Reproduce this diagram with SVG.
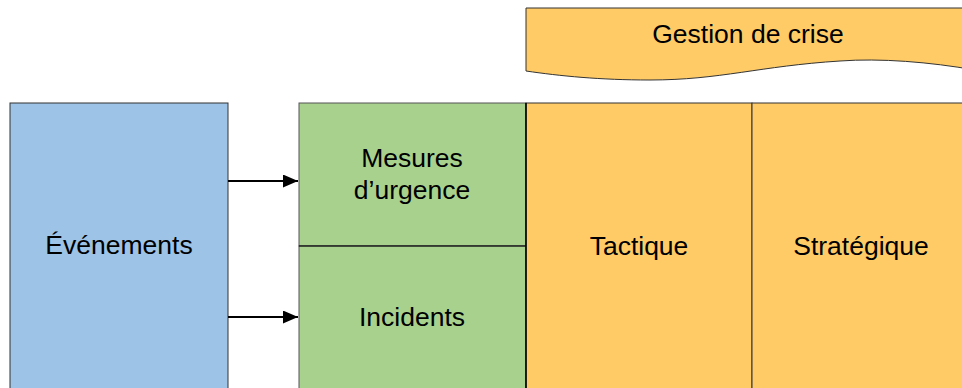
<svg xmlns="http://www.w3.org/2000/svg" width="962" height="388" viewBox="0 0 962 388">
<defs>
<style>
text{font-family:"Liberation Sans",Arial,sans-serif;font-size:26.5px;fill:#000;text-anchor:middle}
.conn{stroke:#000;stroke-width:2;fill:none}
</style>
<marker id="ah" viewBox="0 0 10 10" refX="10" refY="5" markerWidth="7.5" markerHeight="6.5" markerUnits="strokeWidth" orient="auto" preserveAspectRatio="none"><path d="M0,0L10,5L0,10z" fill="#000"/></marker>
</defs>
<g id="banner">
<path d="M526,8H975V70C930,62 880,58 840,61C760,66 720,80 650,80C600,80 560,76 526,71Z" fill="#FFCB66" stroke="#333" stroke-width="1"/>
<text x="748" y="43">Gestion de crise</text>
</g>
<g id="evenements">
<rect x="10" y="103" width="218" height="300" fill="#9DC3E6" stroke="#333" stroke-width="1"/>
<text x="119" y="254">Événements</text>
</g>
<g id="mesures">
<rect x="299" y="103" width="227" height="143" fill="#A9D18E" stroke="#555" stroke-width="1"/>
<text x="412" y="167">Mesures</text>
<text x="412" y="199">d’urgence</text>
</g>
<g id="incidents">
<rect x="299" y="246" width="227" height="160" fill="#A9D18E" stroke="#555" stroke-width="1"/>
<line x1="299" y1="246" x2="526" y2="246" stroke="#000" stroke-width="1"/>
<text x="412" y="326">Incidents</text>
</g>
<g id="tactique">
<rect x="526" y="103" width="226" height="300" fill="#FFCB66" stroke="#333" stroke-width="1"/>
<text x="639" y="255">Tactique</text>
</g>
<g id="strategique">
<rect x="752" y="103" width="226" height="300" fill="#FFCB66" stroke="#333" stroke-width="1"/>
<text x="861" y="255">Stratégique</text>
</g>
<line x1="526" y1="103" x2="526" y2="388" stroke="#000" stroke-width="1.5"/>
<g id="connectors">
<line class="conn" x1="228" y1="181" x2="298" y2="181" marker-end="url(#ah)"/>
<line class="conn" x1="228" y1="317" x2="298" y2="317" marker-end="url(#ah)"/>
</g>
</svg>
